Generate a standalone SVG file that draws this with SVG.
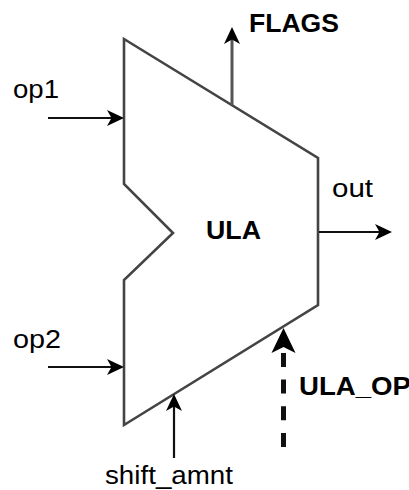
<svg xmlns="http://www.w3.org/2000/svg" width="409" height="490" viewBox="0 0 409 490">
<style>
text{font-family:"Liberation Sans",Arial,sans-serif;fill:#000}
.n{font-size:25px}
.b{font-size:26.500px;font-weight:bold}
.c{fill:none;stroke:#111;stroke-width:2.2}
</style>
<defs>
<marker id="a" markerUnits="userSpaceOnUse" markerWidth="20" markerHeight="20" refX="5" refY="9" orient="auto"><path d="M0 1L17 9L0 17L4.500 9Z" fill="#000"/></marker>
<marker id="b" markerUnits="userSpaceOnUse" markerWidth="28" markerHeight="30" refX="7" refY="13" orient="auto"><path d="M0 1L25 13L0 25L6 13Z" fill="#000"/></marker>
</defs>
<rect width="409" height="490" fill="#fff"/>
<g id="ula"><path d="M124 39L318 158V305L124 425V280L173 233L124 184Z" fill="#fff" stroke="#444" stroke-width="2.600"/><text class="b" x="206" y="239" textLength="55" lengthAdjust="spacingAndGlyphs">ULA</text></g>
<g id="connectors">
<path class="c" d="M48 118H112" marker-end="url(#a)"/>
<path class="c" d="M48 367H112" marker-end="url(#a)"/>
<path class="c" style="stroke:#555;stroke-width:3" d="M232 105V39" marker-end="url(#a)"/>
<path class="c" d="M319 232H380" marker-end="url(#a)"/>
<path class="c" d="M174 458V406" marker-end="url(#a)"/>
<path class="c" style="stroke-width:5;stroke-dasharray:14 12.700" d="M283.500 447V346" marker-end="url(#b)"/>
</g>
<g id="labels">
<text class="n" x="13" y="98" textLength="46" lengthAdjust="spacingAndGlyphs">op1</text>
<text class="n" x="13" y="348" textLength="48" lengthAdjust="spacingAndGlyphs">op2</text>
<text class="b" x="249" y="32" textLength="90" lengthAdjust="spacingAndGlyphs">FLAGS</text>
<text class="n" x="332" y="197" textLength="41" lengthAdjust="spacingAndGlyphs">out</text>
<text class="b" x="299" y="395" textLength="112" lengthAdjust="spacingAndGlyphs">ULA_OP</text>
<text class="n" x="105" y="484" textLength="128" lengthAdjust="spacingAndGlyphs">shift_amnt</text>
</g>
</svg>
